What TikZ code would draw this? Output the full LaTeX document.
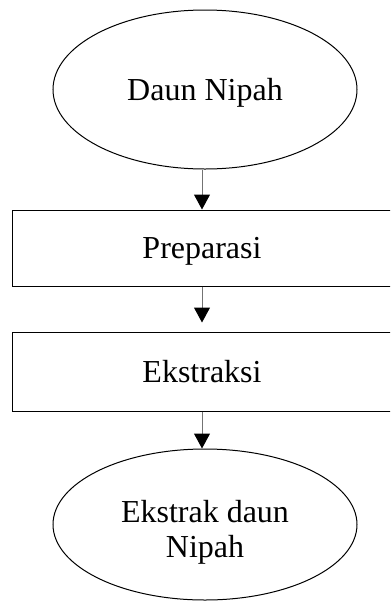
\documentclass[tikz,border=0pt]{standalone}
\usepackage{fontspec}
\setmainfont{Liberation Serif}
\usepackage{tikz}
\usetikzlibrary{shapes.geometric, arrows.meta}

\tikzset{
	stepfont/.style={font=\fontsize{24}{26.25}\selectfont, text depth=0pt},
	stepellipse/.style={draw, ellipse, line width=0.75pt, inner sep=0pt, minimum width=228pt, stepfont},
	stepbox/.style={draw, rectangle, line width=0.75pt, inner sep=0pt, minimum width=285pt, stepfont},
	flow/.style={draw=black!55, line width=0.75pt, -{Triangle[width=12pt, length=11.25pt, black]}}
}

\begin{document}
\begin{tikzpicture}[x=0.75pt, y=-0.75pt]
		\clip (0, 0) rectangle (390, 608);

		% Steps
		\node[stepellipse, minimum height=119.25pt] (daun) at (205, 89.5) {Daun Nipah};
		\node[stepbox, minimum height=57pt] (preparasi) at (202, 248) {Preparasi};
		\node[stepbox, minimum height=59.25pt] (ekstraksi) at (202, 371.5) {Ekstraksi};
		\node[stepellipse, minimum height=113.25pt, align=center] (ekstrak) at (205, 524.5) {};
		\node[stepfont, align=center, yshift=-3pt] (ekstraklabel) at (ekstrak) {Ekstrak daun\\Nipah};

		% Arrows
		\draw[flow] (daun.south -| preparasi.north) -- (preparasi.north);
		\draw[flow, shorten >=6.75pt] (preparasi.south) -- (ekstraksi.north);
		\draw[flow] (ekstraksi.south) -- (ekstraksi.south |- ekstrak.north);
	\end{tikzpicture}
\end{document}
